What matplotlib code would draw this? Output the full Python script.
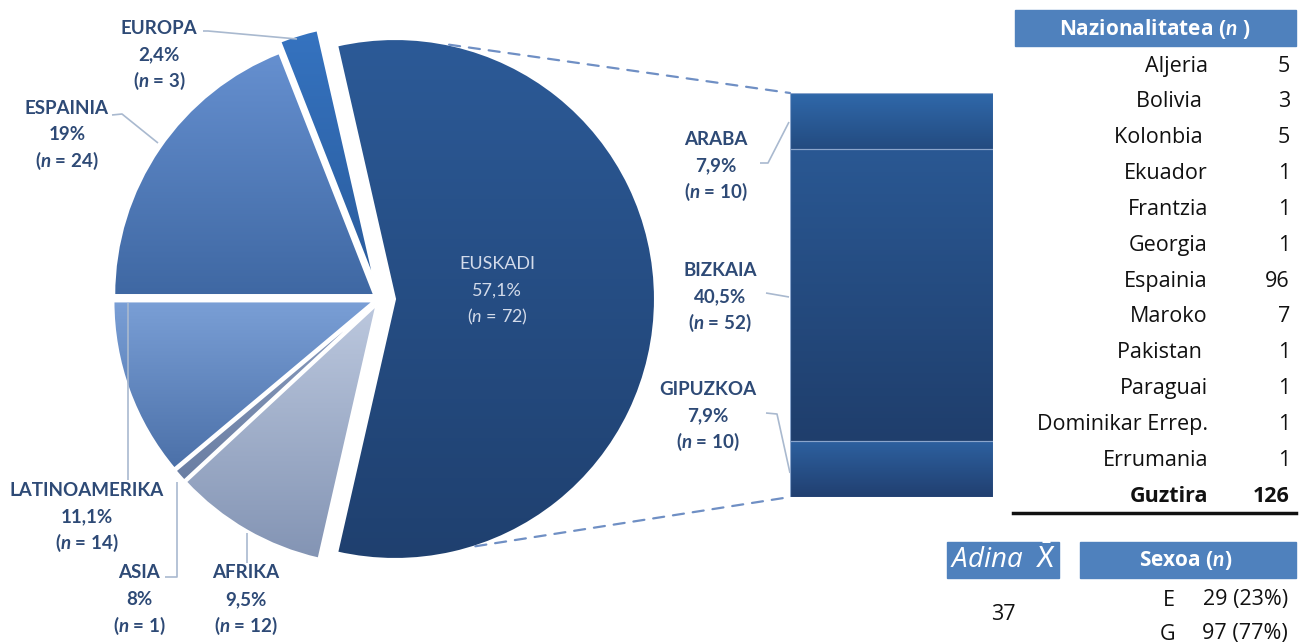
import matplotlib
matplotlib.use("Agg")
import matplotlib.pyplot as plt
from matplotlib.colors import LinearSegmentedColormap
from matplotlib.patches import ConnectionPatch, Rectangle
import numpy as np

plt.rcParams['font.family'] = ['Lato', 'DejaVu Sans']
plt.rcParams['mathtext.fontset'] = 'custom'
plt.rcParams['mathtext.rm'] = 'Lato'
plt.rcParams['mathtext.it'] = 'Lato:italic'
plt.rcParams['mathtext.bf'] = 'Lato:bold'
plt.rcParams['mathtext.bfit'] = 'Lato:italic:bold'

# Datuak
eskualdeak = ['EUSKADI', 'EUROPA', 'ESPAINIA', 'LATINOAMERIKA', 'ASIA', 'AFRIKA']
eskualde_n = [72, 3, 24, 14, 1, 12]
eskualde_pct = ['57,1%', '2,4%', '19%', '11,1%', '8%', '9,5%']

lurraldeak = ['GIPUZKOA', 'BIZKAIA', 'ARABA']      # behetik gora
lurralde_n = [10, 52, 10]
lurralde_pct = ['7,9%', '40,5%', '7,9%']

nazioak = ['Aljeria', 'Bolivia ', 'Kolonbia ', 'Ekuador', 'Frantzia', 'Georgia',
           'Espainia', 'Maroko', 'Pakistan ', 'Paraguai', 'Dominikar Errep.', 'Errumania']
nazio_n = [5, 3, 5, 1, 1, 1, 96, 7, 1, 1, 1, 1]
guztira = 126

adina = 37
sexoa = ['E', 'G']
sexoa_n = [29, 97]
sexoa_pct = ['23%', '77%']

# Koloreak (goian -> behean gradientea)
pie_kolore = [('#2c5a97', '#1f406f'), ('#3573c0', '#2a5c9d'), ('#6690d0', '#3f68a3'),
              ('#7a9fd6', '#4b70a8'), ('#8b9dbf', '#6a7ea3'), ('#bcc8de', '#8394b4')]
bar_kolore = [('#2d61a0', '#213f70'), ('#2a5893', '#1f3e6c'), ('#3069ab', '#234b80')]
testu_kolore = '#2e4a76'
lerro_kolore = '#a9b9cf'
blue_hdr = '#4f81bd'
taula_font = ['Open Sans', 'DejaVu Sans']

W, H = 1299, 644
fig = plt.figure(figsize=(W / 100, H / 100), dpi=100)
ax = fig.add_axes([0, 0, 1, 1])

R = 260
explode_px = [15, 16, 7, 7, 7, 7]   # pie-k datu-unitatetan mugitzen ditu
wedges, _ = ax.pie(eskualde_n, radius=R, center=(380, 299),
                   startangle=180 * eskualde_n[0] / sum(eskualde_n), counterclock=False,
                   explode=explode_px,
                   wedgeprops=dict(edgecolor='white', linewidth=1.5, facecolor='none'))


def gradientea(a, patch, c_top, c_bot, bbox):
    cmap = LinearSegmentedColormap.from_list('g', [c_top, c_bot])
    if a.yaxis_inverted():
        ext = (bbox.x0, bbox.x1, bbox.y1, bbox.y0)
    else:
        ext = (bbox.x0, bbox.x1, bbox.y0, bbox.y1)
    img = a.imshow(np.linspace(0, 1, 256).reshape(-1, 1), cmap=cmap, aspect='auto',
                   extent=ext, origin='upper',
                   zorder=patch.get_zorder() - 0.1, interpolation='bilinear')
    img.set_clip_path(patch)


ax.set_xlim(0, W)
ax.set_ylim(H, 0)
for w, (ct, cb) in zip(wedges, pie_kolore):
    gradientea(ax, w, ct, cb, w.get_path().get_extents())

ax.set_xlim(0, W)
ax.set_ylim(H, 0)
ax.set_aspect('equal')
ax.axis('off')

# Euskadiko barra
ax_bar = fig.add_axes([790 / W, (H - 497) / H, 203 / W, 404 / H])
behea = np.concatenate([[0], np.cumsum(lurralde_n)[:-1]])
barrak = ax_bar.bar(0, lurralde_n, bottom=behea, width=1, facecolor='none',
                    edgecolor='#8aa5cc', linewidth=0.8)
ax_bar.set_xlim(-0.5, 0.5)
ax_bar.set_ylim(0, sum(lurralde_n))
for b, (ct, cb) in zip(barrak, bar_kolore):
    gradientea(ax_bar, b, ct, cb, b.get_bbox())
ax_bar.set_xlim(-0.5, 0.5)
ax_bar.set_ylim(0, sum(lurralde_n))
ax_bar.axis('off')

# Lerro etenak
cx, cy = wedges[0].center
for ang, yb in [(78, sum(lurralde_n)), (-72, 0)]:
    px = cx + R * np.cos(np.radians(ang))
    py = cy - R * np.sin(np.radians(ang))
    con = ConnectionPatch(xyA=(px, py), coordsA=ax.transData, xyB=(-0.5, yb),
                          coordsB=ax_bar.transData, linestyle=(0, (5, 4)),
                          color='#6f8fc4', linewidth=1.6)
    fig.add_artist(con)


def etiketa(x, y, izena, pct, n, color, weight='bold', size=13.5):
    nfmt = r'$\mathbfit{n}$' if weight == 'bold' else r'$\mathit{n}$'
    lerroak = [izena, pct, f'({nfmt} = {n})']
    for i, s in enumerate(lerroak):
        ax.text(x, y + i * 26.5, s, ha='center', va='center', color=color,
                fontweight=weight, fontsize=size)


etiketa_pos = {'EUSKADI': (497, 264), 'EUROPA': (159, 28), 'ESPAINIA': (67, 108),
               'LATINOAMERIKA': (87, 490), 'ASIA': (139, 573), 'AFRIKA': (246, 573)}
for izena, pct, n in zip(eskualdeak, eskualde_pct, eskualde_n):
    x, y = etiketa_pos[izena]
    if izena == 'EUSKADI':
        etiketa(x, y, izena, pct, n, '#d3dbea', weight='normal', size=13)
    else:
        etiketa(x, y, izena, pct, n, testu_kolore)

lurralde_pos = {'ARABA': (716, 139), 'BIZKAIA': (720, 270), 'GIPUZKOA': (708, 389)}
for izena, pct, n in zip(lurraldeak, lurralde_pct, lurralde_n):
    x, y = lurralde_pos[izena]
    etiketa(x, y, izena, pct, n, testu_kolore)

# Gida-lerroak
gidak = [([203, 208, 297], [31, 31, 39]),
         ([112, 122, 158], [115, 114, 143]),
         ([128, 128], [480, 303]),
         ([165, 177, 177], [577, 577, 482]),
         ([247, 247], [563, 533]),
         ([760, 768, 789], [163, 163, 122]),
         ([766, 789], [293, 297]),
         ([766, 777, 790], [413, 414, 473])]
for xs, ys in gidak:
    ax.plot(xs, ys, color=lerro_kolore, linewidth=1.2, solid_capstyle='butt')

# Nazionalitate taula
ax.add_patch(Rectangle((1015, 10), 281, 36, color=blue_hdr, zorder=3))
ax.text(1155, 28.5, r'Nazionalitatea ($\mathbfit{n}$ )', ha='center', va='center',
        color='white', fontweight='bold', fontsize=15, zorder=4, family=taula_font)
for i, (iz, n) in enumerate(zip(nazioak, nazio_n)):
    y = 66 + i * 35.85
    ax.text(1208, y, iz, ha='right', va='center', fontsize=15.5, color='#111111', family=taula_font)
    ax.text(1290, y, str(n), ha='right', va='center', fontsize=15.5, color='#111111', family=taula_font)
yg = 66 + len(nazioak) * 35.85
ax.text(1208, yg, 'Guztira', ha='right', va='center', fontsize=15.5, fontweight='bold',
        color='#111111', family=taula_font)
ax.text(1290, yg, str(guztira), ha='right', va='center', fontsize=15.5, fontweight='bold',
        color='#111111', family=taula_font)
ax.plot([1013, 1296], [513, 513], color='#111111', linewidth=2.5)

# Adina eta sexoa
ax.add_patch(Rectangle((947, 542), 112, 36, color=blue_hdr, zorder=3))
ax.text(1003, 560, r'Adina  $\bar{X}$', ha='center', va='center', color='white',
        style='italic', fontsize=20, zorder=4, family=taula_font)
ax.add_patch(Rectangle((1080, 542), 216, 36, color=blue_hdr, zorder=3))
ax.text(1186, 560, r'Sexoa ($\mathbfit{n}$)', ha='center', va='center', color='white',
        fontweight='bold', fontsize=15, zorder=4, family=taula_font)
ax.text(1003, 614, str(adina), ha='center', va='center', fontsize=15.5, color='#111111',
        family=taula_font)
for i, (s, n, p) in enumerate(zip(sexoa, sexoa_n, sexoa_pct)):
    y = 600 + i * 34
    ax.text(1175, y, s, ha='right', va='center', fontsize=15.5, color='#111111', family=taula_font)
    ax.text(1288, y, f'{n} ({p})', ha='right', va='center', fontsize=15.5, color='#111111',
            family=taula_font)

fig.savefig('out.png', dpi=100)
